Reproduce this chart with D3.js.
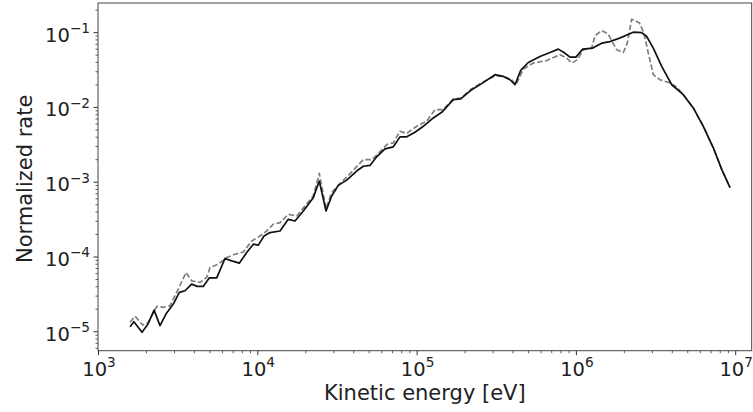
<!DOCTYPE html>
<html>
<head>
<meta charset="utf-8">
<script src="https://cdn.jsdelivr.net/npm/d3@7"></script>
<style>
  html, body { margin: 0; padding: 0; background: #fff; }
  svg { display: block; font-family: "DejaVu Sans", sans-serif; }
</style>
</head>
<body>
<svg id="chart" width="753" height="412"></svg>
<script>
// ---- data ----
const energySolid = [1590, 1680, 1890, 2060, 2250, 2450, 2670, 2970, 3240, 3520,
  3870, 4200, 4580, 5000, 5560, 6270, 6910, 7710, 8580, 9440,
  10150, 11020, 12010, 13890, 15650, 17250, 19450, 22460, 24500, 27000,
  29310, 32250, 36410, 42070, 46290, 51000, 56170, 63330, 71410, 78660,
  86680, 97720, 110200, 127300, 143800, 170000, 189200, 221800, 256300, 310600,
  350200, 385800, 414700, 450300, 502800, 595200, 687800, 775500, 842000, 918500,
  1.001e6, 1.103e6, 1.275e6, 1.452e6, 1.637e6, 1.804e6, 2.033e6, 2.293e6, 2.589e6, 2.782e6,
  3.061e6, 3.457e6, 3.995e6, 4.723e6, 5.458e6, 6.306e6, 7.288e6, 8.229e6, 9.278e6];
const rateSolid = [1.15e-5, 1.34e-5, 9.7e-6, 1.25e-5, 1.92e-5, 1.19e-5, 1.70e-5, 2.31e-5, 3.31e-5, 3.48e-5,
  4.27e-5, 3.98e-5, 3.98e-5, 5.18e-5, 5.18e-5, 9.40e-5, 8.73e-5, 8.14e-5, 1.13e-4, 1.46e-4,
  1.42e-4, 1.88e-4, 2.09e-4, 2.19e-4, 3.14e-4, 2.98e-4, 4.06e-4, 6.12e-4, 1.02e-3, 4.06e-4,
  6.43e-4, 8.93e-4, 1.05e-3, 1.39e-3, 1.61e-3, 1.65e-3, 2.15e-3, 2.75e-3, 2.93e-3, 3.98e-3,
  3.98e-3, 4.59e-3, 5.51e-3, 7.13e-3, 8.47e-3, 1.25e-2, 1.28e-2, 1.70e-2, 2.05e-2, 2.70e-2,
  2.56e-2, 2.31e-2, 1.98e-2, 3.08e-2, 3.93e-2, 4.73e-2, 5.35e-2, 5.93e-2, 5.35e-2, 4.64e-2,
  4.64e-2, 5.93e-2, 6.12e-2, 7.13e-2, 7.49e-2, 8.06e-2, 8.93e-2, 0.100, 9.88e-2, 8.74e-2,
  6.12e-2, 3.48e-2, 1.98e-2, 1.46e-2, 9.69e-3, 5.51e-3, 2.84e-3, 1.46e-3, 8.32e-4];

const energyDashed = [1590, 1710, 1910, 2070, 2340, 2570, 2830, 3190, 3570, 3870,
  4370, 4810, 5050, 5690, 6430, 7240, 8170, 9220, 10390, 11460,
  12600, 13890, 15650, 17670, 22460, 24500, 27000, 29310, 33050, 37270,
  46290, 52250, 57480, 64920, 71410, 78660, 86680, 100100, 115700, 130500,
  147100, 170000, 189200, 221800, 256300, 310600, 350200, 395400, 420700, 467600,
  540200, 655700, 794800, 875700, 941200, 1.021e6, 1.113e6, 1.256e6, 1.318e6, 1.452e6,
  1.59e6, 1.804e6, 1.984e6, 2.102e6, 2.24e6, 2.50e6, 2.676e6, 2.848e6, 3.061e6, 3.373e6,
  3.897e6, 4.294e6, 4.723e6, 5.458e6, 6.306e6, 7.288e6, 8.229e6, 9.278e6];
const rateDashed = [1.32e-5, 1.59e-5, 1.21e-5, 1.32e-5, 2.15e-5, 2.09e-5, 2.19e-5, 3.66e-5, 6.12e-5, 4.73e-5,
  4.50e-5, 5.25e-5, 7.13e-5, 7.89e-5, 9.69e-5, 1.07e-4, 1.15e-4, 1.61e-4, 1.88e-4, 2.19e-4,
  2.70e-4, 2.84e-4, 3.66e-4, 3.48e-4, 6.43e-4, 1.29e-3, 4.37e-4, 7.13e-4, 9.49e-4, 1.21e-3,
  1.98e-3, 1.98e-3, 2.38e-3, 3.14e-3, 3.31e-3, 4.73e-3, 4.41e-3, 5.51e-3, 6.43e-3, 9.20e-3,
  9.20e-3, 1.28e-2, 1.31e-2, 1.75e-2, 2.11e-2, 2.61e-2, 2.56e-2, 2.31e-2, 1.98e-2, 3.21e-2,
  3.86e-2, 4.18e-2, 4.98e-2, 4.50e-2, 3.86e-2, 4.27e-2, 5.81e-2, 6.12e-2, 8.93e-2, 0.105,
  9.49e-2, 5.81e-2, 5.35e-2, 7.13e-2, 0.149, 0.134, 9.70e-2, 5.25e-2, 2.70e-2, 2.31e-2,
  2.09e-2, 1.85e-2, 1.46e-2, 9.69e-3, 5.51e-3, 2.84e-3, 1.46e-3, 8.32e-4];

const xTickExponents = [3, 4, 5, 6, 7];
const yTickExponents = [-5, -4, -3, -2, -1];
const xLabel = "Kinetic energy [eV]";
const yLabel = "Normalized rate";

// ---- layout ----
const W = 753, H = 412;
const margin = { left: 98, top: 3, right: 1.3, bottom: 61.3 };
const iw = W - margin.left - margin.right;
const ih = H - margin.top - margin.bottom;
const tickFont = 19.5, labelFont = 21;

const svg = d3.select("#chart");
const g = svg.append("g").attr("transform", `translate(${margin.left},${margin.top})`);

const x = d3.scaleLog().domain([1e3, Math.pow(10, 7.1036)]).range([0, iw]);
const y = d3.scaleLog().domain([Math.pow(10, -5.26), Math.pow(10, -0.61)]).range([ih, 0]);

// minor ticks
function minorTicks(scale, lo, hi) {
  const out = [];
  for (let e = lo; e <= hi; e++) {
    for (let m = 2; m <= 9; m++) {
      const v = m * Math.pow(10, e);
      const d = scale.domain();
      if (v >= d[0] && v <= d[1]) out.push(v);
    }
  }
  return out;
}

const tickColor = "#333";
// x axis
const xAxis = d3.axisBottom(x)
  .tickValues(xTickExponents.map(e => Math.pow(10, e)))
  .tickSize(4.5).tickFormat("");
const gx = g.append("g").attr("transform", `translate(0,${ih})`).call(xAxis);
gx.select(".domain").remove();
gx.selectAll(".tick line").attr("stroke", tickColor).attr("stroke-width", 1);
g.append("g").attr("transform", `translate(0,${ih})`)
  .call(d3.axisBottom(x).tickValues(minorTicks(x, 3, 7)).tickSize(2.5).tickFormat(""))
  .call(s => s.select(".domain").remove())
  .selectAll(".tick line").attr("stroke", tickColor).attr("stroke-width", 0.8);

// y axis
const yAxis = d3.axisLeft(y)
  .tickValues(yTickExponents.map(e => Math.pow(10, e)))
  .tickSize(4.5).tickFormat("");
const gy = g.append("g").call(yAxis);
gy.select(".domain").remove();
gy.selectAll(".tick line").attr("stroke", tickColor).attr("stroke-width", 1);
g.append("g")
  .call(d3.axisLeft(y).tickValues(minorTicks(y, -6, -1)).tickSize(2.5).tickFormat(""))
  .call(s => s.select(".domain").remove())
  .selectAll(".tick line").attr("stroke", tickColor).attr("stroke-width", 0.8);

// tick labels with superscripts
function powLabel(sel, exp) {
  sel.append("tspan").text("10");
  sel.append("tspan")
    .attr("font-size", tickFont * 0.7)
    .attr("dy", -tickFont * 0.44)
    .text(exp < 0 ? "\u2212" + Math.abs(exp) : String(exp));
}
xTickExponents.forEach(e => {
  const t = g.append("text")
    .attr("x", x(Math.pow(10, e)) + 1)
    .attr("y", ih + 25.3)
    .attr("text-anchor", "middle")
    .attr("font-size", tickFont)
    .attr("fill", "#222");
  powLabel(t, e);
});
yTickExponents.forEach(e => {
  const t = g.append("text")
    .attr("x", -8)
    .attr("y", y(Math.pow(10, e)) + 9.4)
    .attr("text-anchor", "end")
    .attr("font-size", tickFont)
    .attr("fill", "#222");
  powLabel(t, e);
});

// axis labels
svg.append("text")
  .attr("x", margin.left + iw / 2)
  .attr("y", 400)
  .attr("text-anchor", "middle")
  .attr("font-size", labelFont)
  .attr("fill", "#222")
  .text(xLabel);
svg.append("text")
  .attr("transform", `translate(31.5,${margin.top + ih / 2 + 2}) rotate(-90)`)
  .attr("text-anchor", "middle")
  .attr("font-size", labelFont)
  .attr("fill", "#222")
  .text(yLabel);

// lines
const line = d3.line().x(d => x(d[0])).y(d => y(d[1]));
g.append("clipPath").attr("id", "clip").append("rect")
  .attr("width", iw).attr("height", ih);
const plot = g.append("g").attr("clip-path", "url(#clip)");

plot.append("path")
  .datum(d3.zip(energyDashed, rateDashed))
  .attr("d", line)
  .attr("fill", "none")
  .attr("stroke", "#7f7f7f")
  .attr("stroke-width", 1.7)
  .attr("stroke-dasharray", "5.5,2.4")
  .attr("stroke-linejoin", "round");

plot.append("path")
  .datum(d3.zip(energySolid, rateSolid))
  .attr("d", line)
  .attr("fill", "none")
  .attr("stroke", "#111")
  .attr("stroke-width", 1.7)
  .attr("stroke-linejoin", "round");

// frame
g.append("rect")
  .attr("width", iw).attr("height", ih)
  .attr("fill", "none")
  .attr("stroke", "#444")
  .attr("stroke-width", 1);
</script>
</body>
</html>
